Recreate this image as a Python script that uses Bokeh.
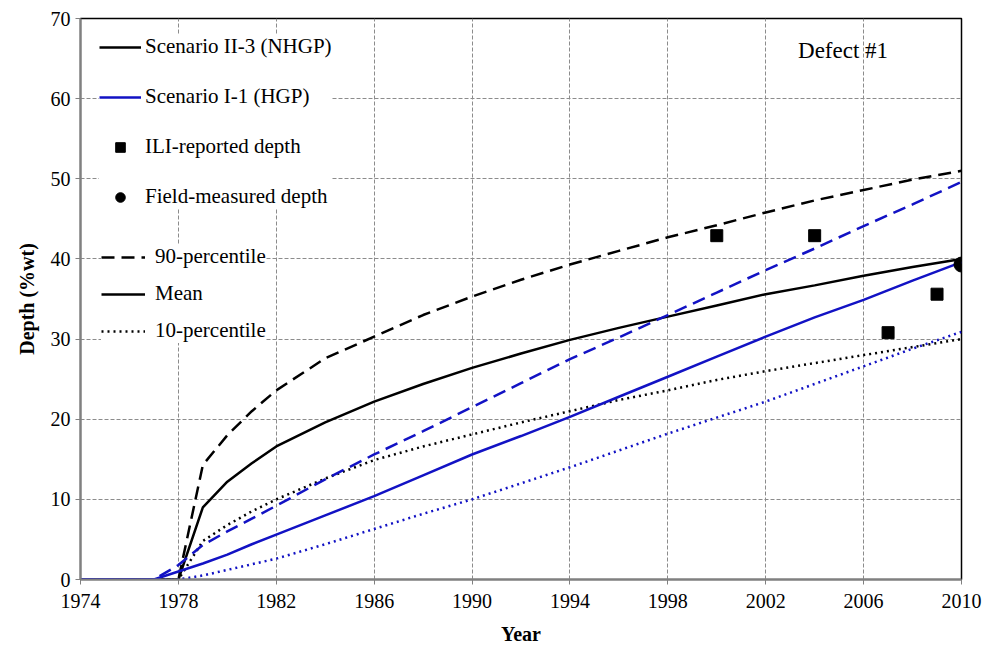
from bokeh.plotting import figure
from bokeh.models import Range1d, FixedTicker, Legend, LegendItem, Label
from bokeh.embed import file_html
from bokeh.resources import INLINE

# Simulated corrosion depth growth (% of wall thickness) for Defect #1
years = [1974, 1975, 1976, 1977, 1978, 1979, 1980, 1981, 1982, 1984, 1986, 1988,
         1990, 1992, 1994, 1996, 1998, 2000, 2002, 2004, 2006, 2008, 2010]

# Scenario II-3 (NHGP)
nhgp_p90 = [0, 0, 0, 0, 0, 14.3, 18.0, 21.0, 23.6, 27.6, 30.3, 33.0,
            35.3, 37.4, 39.3, 41.0, 42.7, 44.2, 45.8, 47.3, 48.6, 49.9, 51.0]
nhgp_mean = [0, 0, 0, 0, 0, 9.0, 12.2, 14.5, 16.6, 19.6, 22.2, 24.4,
             26.4, 28.2, 29.9, 31.4, 32.8, 34.2, 35.6, 36.7, 37.9, 39.0, 40.0]
nhgp_p10 = [0, 0, 0, 0, 0, 4.8, 6.8, 8.5, 10.0, 12.6, 14.9, 16.6,
            18.1, 19.6, 21.0, 22.4, 23.6, 24.9, 26.0, 27.0, 28.0, 29.0, 30.0]

# Scenario I-1 (HGP)
hgp_p90 = [0, 0, 0, 0, 1.8, 4.3, 6.0, 7.6, 9.2, 12.5, 15.6, 18.5,
           21.5, 24.5, 27.5, 30.2, 33.0, 35.8, 38.6, 41.3, 44.1, 46.8, 49.6]
hgp_mean = [0, 0, 0, 0, 1.0, 2.0, 3.1, 4.4, 5.6, 8.0, 10.4, 13.0,
            15.6, 17.9, 20.3, 22.8, 25.3, 27.8, 30.3, 32.7, 34.9, 37.3, 39.6]
hgp_p10 = [0, 0, 0, 0, 0, 0.5, 1.2, 1.9, 2.6, 4.4, 6.3, 8.2,
           10.0, 12.0, 14.0, 16.1, 18.2, 20.2, 22.2, 24.4, 26.6, 28.8, 30.9]

# Inspection data
ili_years = [2000, 2004, 2007, 2009]
ili_depth = [42.9, 42.9, 30.8, 35.6]
field_years = [2010]
field_depth = [39.3]

x_ticks = list(range(1974, 2011, 4))
y_ticks = list(range(0, 71, 10))

SERIF = "Liberation Serif"
BLUE = "#1212c4"
DASH = "13 7"
DOT = "2 4"
LW = 2.5

p = figure(width=986, height=647, output_backend="svg", toolbar_location=None,
           x_range=Range1d(1974, 2010), y_range=Range1d(0, 70),
           min_border_left=80, min_border_right=25,
           min_border_top=18, min_border_bottom=67)
p.background_fill_color = "white"
p.border_fill_color = "white"
p.outline_line_color = "black"
p.outline_line_width = 1.5

p.xaxis.ticker = FixedTicker(ticks=x_ticks)
p.yaxis.ticker = FixedTicker(ticks=y_ticks)
for ax in (p.xaxis, p.yaxis):
    ax.axis_line_color = "#808080"
    ax.axis_line_width = 2
    ax.major_tick_line_color = "#808080"
    ax.major_tick_out = 5
    ax.major_tick_in = 0
    ax.minor_tick_line_color = None
    ax.major_label_text_font = SERIF
    ax.major_label_text_font_size = "20px"
    ax.major_label_text_color = "black"
    ax.axis_label_text_font = SERIF
    ax.axis_label_text_font_size = "20px"
    ax.axis_label_text_font_style = "bold"
    ax.axis_label_text_color = "black"
p.xaxis.axis_label = "Year"
p.yaxis.axis_label = "Depth (%wt)"
p.xaxis.major_label_standoff = 9
p.xaxis.axis_label_standoff = 12
p.yaxis.axis_label_standoff = 10

p.grid.grid_line_color = "#8c8c8c"
p.grid.grid_line_dash = "4 2"
p.grid.grid_line_width = 1

# Scenario II-3 curves
r_p90 = p.line(years, nhgp_p90, line_color="black", line_width=LW, line_dash=DASH)
r_mean = p.line(years, nhgp_mean, line_color="black", line_width=LW)
r_p10 = p.line(years, nhgp_p10, line_color="black", line_width=LW, line_dash=DOT)

# Scenario I-1 curves
p.line(years, hgp_p90, line_color=BLUE, line_width=LW, line_dash=DASH)
r_hgp = p.line(years, hgp_mean, line_color=BLUE, line_width=LW)
p.line(years, hgp_p10, line_color=BLUE, line_width=LW, line_dash=DOT)

# Measurements
r_ili = p.scatter(ili_years, ili_depth, marker="square", size=12,
                  fill_color="black", line_color="black")
r_field = p.scatter(field_years, field_depth, marker="circle", size=15,
                    fill_color="black", line_color="black")

def make_legend(items, loc, glyph_w, standoff, spacing):
    leg = Legend(items=items, location=loc, orientation="vertical",
                 glyph_width=glyph_w, glyph_height=24, label_height=24,
                 label_standoff=standoff, spacing=spacing, padding=8,
                 margin=0, border_line_color=None,
                 background_fill_color="white", background_fill_alpha=1.0,
                 label_text_font=SERIF, label_text_font_size="21px",
                 label_text_color="black")
    return leg

legend_top = make_legend([
    LegendItem(label="Scenario II-3 (NHGP)", renderers=[r_mean]),
    LegendItem(label="Scenario I-1 (HGP)", renderers=[r_hgp]),
    LegendItem(label="ILI-reported depth", renderers=[r_ili]),
    LegendItem(label="Field-measured depth", renderers=[r_field]),
], (19, 370), 42, 4, 25)

legend_bottom = make_legend([
    LegendItem(label="90-percentile", renderers=[r_p90]),
    LegendItem(label="Mean", renderers=[r_mean]),
    LegendItem(label="10-percentile", renderers=[r_p10]),
], (21, 236), 44, 10, 12)

p.add_layout(legend_top)
p.add_layout(legend_bottom)

p.add_layout(Label(x=2007, y=66, text="Defect #1", text_align="right",
                   text_baseline="middle", text_font=SERIF,
                   text_font_size="23px", text_color="black"))

open("out.html", "w").write(file_html(p, INLINE))
